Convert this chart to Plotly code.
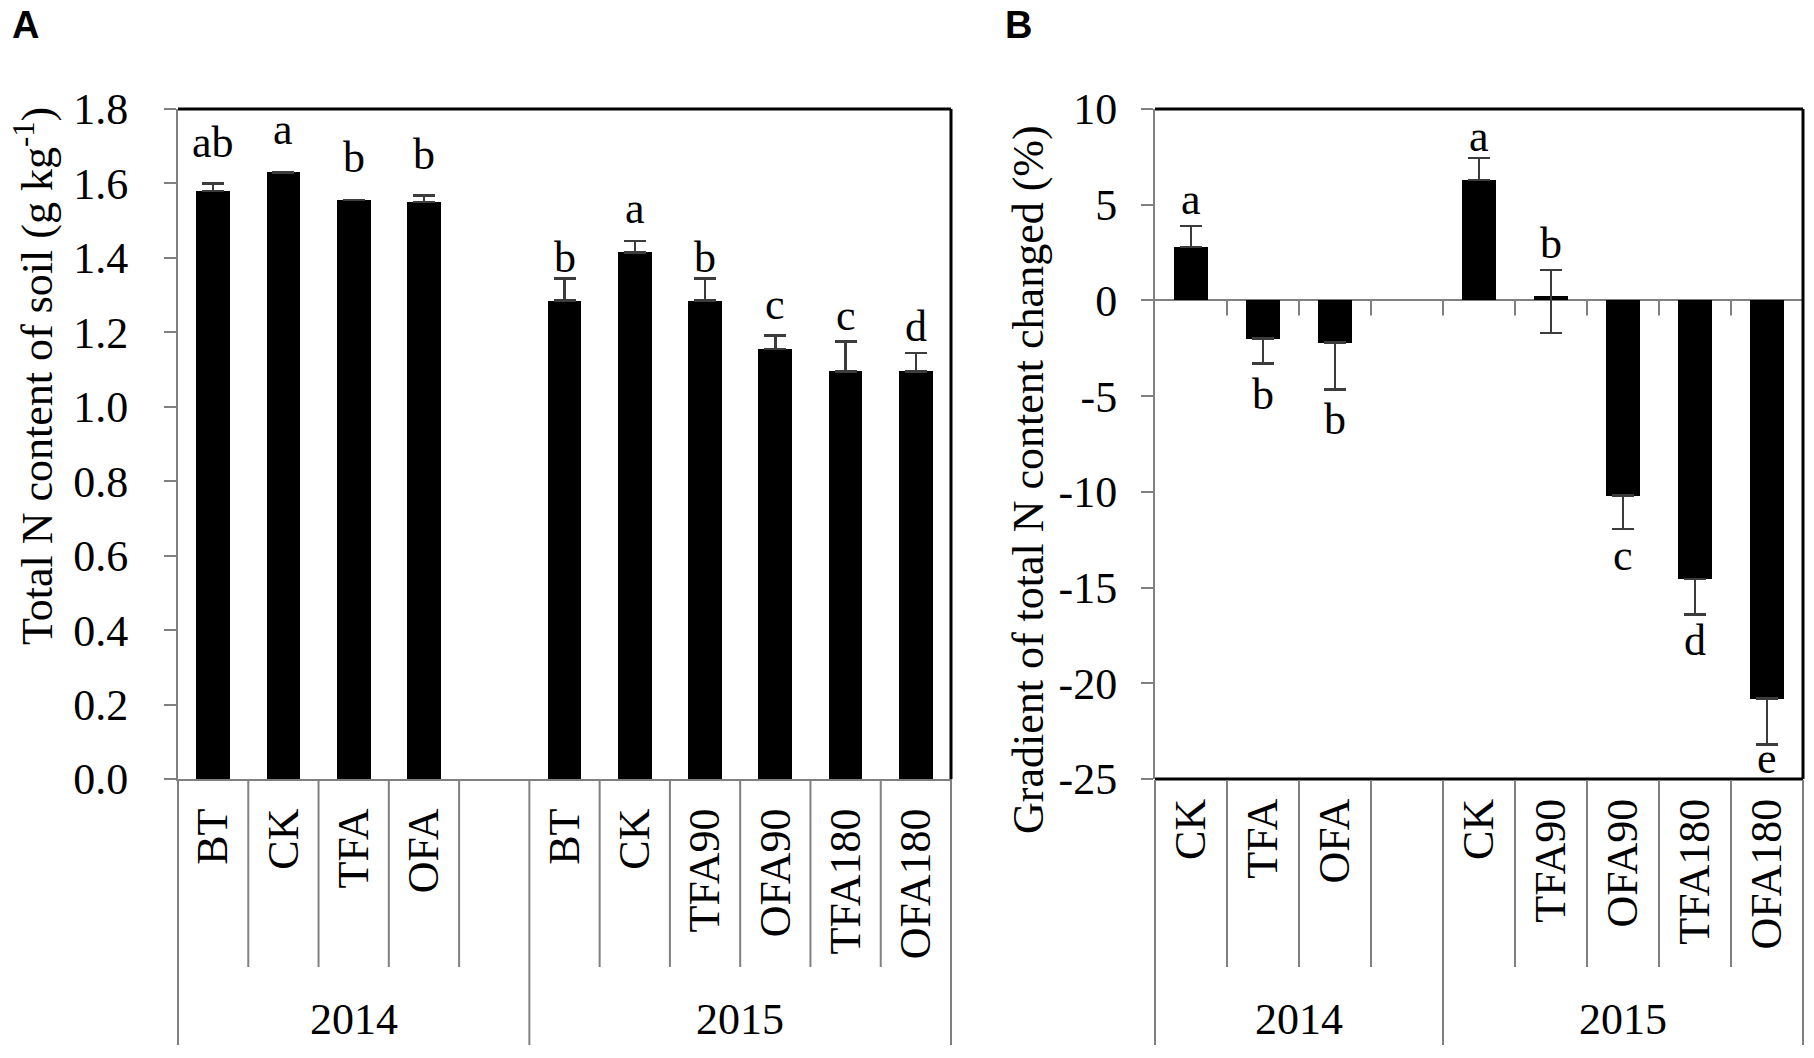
import plotly.graph_objects as go

# ---------------- data ----------------
years = ["2014", "2015"]

# Panel A: total N content of soil (g kg-1)
cats_a_2014 = ["BT", "CK", "TFA", "OFA"]
vals_a_2014 = [1.58, 1.63, 1.555, 1.55]
err_a_2014 = [0.02, 0.0, 0.0, 0.018]
lab_a_2014 = ["ab", "a", "b", "b"]

cats_a_2015 = ["BT", "CK", "TFA90", "OFA90", "TFA180", "OFA180"]
vals_a_2015 = [1.285, 1.415, 1.285, 1.155, 1.095, 1.095]
err_a_2015 = [0.06, 0.03, 0.06, 0.037, 0.08, 0.05]
lab_a_2015 = ["b", "a", "b", "c", "c", "d"]

# Panel B: gradient of total N content changed (%)
cats_b_2014 = ["CK", "TFA", "OFA"]
vals_b_2014 = [2.8, -2.0, -2.2]
errup_b_2014 = [1.1, 0.0, 0.0]
errdn_b_2014 = [0.0, 1.3, 2.45]
lab_b_2014 = ["a", "b", "b"]

cats_b_2015 = ["CK", "TFA90", "OFA90", "TFA180", "OFA180"]
vals_b_2015 = [6.3, 0.25, -10.2, -14.55, -20.8]
errup_b_2015 = [1.13, 1.35, 0.0, 0.0, 0.0]
errdn_b_2015 = [0.0, 1.95, 1.75, 1.85, 2.4]
lab_b_2015 = ["a", "b", "c", "d", "e"]

ytick_a = [0.0, 0.2, 0.4, 0.6, 0.8, 1.0, 1.2, 1.4, 1.6, 1.8]
ytick_b = [10, 5, 0, -5, -10, -15, -20, -25]

# ---------------- style ----------------
W, H = 1814, 1058
SERIF = "Liberation Serif, Times New Roman, serif"
GRAY = "#808080"
FS = 44

# label pixel nudges (style only)
shift_a = [14, 16, 16, 14, -6, 6, -6, 4, 0, 0]
shift_b = [0, -4, -4, -5, 0, 0, 0, -6]


def px2x(p):
    return p / W


def px2y(p):
    return 1 - p / H


# slot positions: a blank slot separates the two year groups
xa_2014 = list(range(len(cats_a_2014)))
xa_2015 = [len(cats_a_2014) + 1 + i for i in range(len(cats_a_2015))]
n_a = len(cats_a_2014) + 1 + len(cats_a_2015)
xb_2014 = list(range(len(cats_b_2014)))
xb_2015 = [len(cats_b_2014) + 1 + i for i in range(len(cats_b_2015))]
n_b = len(cats_b_2014) + 1 + len(cats_b_2015)

xa = xa_2014 + xa_2015
va = vals_a_2014 + vals_a_2015
ea = err_a_2014 + err_a_2015
la = lab_a_2014 + lab_a_2015
ca = cats_a_2014 + cats_a_2015

xb = xb_2014 + xb_2015
vb = vals_b_2014 + vals_b_2015
eub = errup_b_2014 + errup_b_2015
edb = errdn_b_2014 + errdn_b_2015
lb = lab_b_2014 + lab_b_2015
cb = cats_b_2014 + cats_b_2015

err_style = dict(type="data", symmetric=False, color="#3c3c3c", thickness=2.5, width=11)

fig = go.Figure()
fig.add_trace(go.Bar(
    x=xa, y=va, width=0.48, marker=dict(color="black", line=dict(width=0)),
    error_y=dict(array=ea, arrayminus=[0] * len(ea), **err_style),
    xaxis="x", yaxis="y", showlegend=False,
))
fig.add_trace(go.Bar(
    x=xb, y=vb, width=0.46, marker=dict(color="black", line=dict(width=0)),
    error_y=dict(array=eub, arrayminus=edb, **err_style),
    xaxis="x2", yaxis="y2", showlegend=False,
))

ydom = [px2y(779), px2y(109)]
tickfont = dict(family=SERIF, size=FS, color="black")

fig.update_layout(
    template="none",
    width=W, height=H, margin=dict(l=0, r=0, t=0, b=0, autoexpand=False),
    paper_bgcolor="white", plot_bgcolor="white",
    font=dict(family=SERIF, size=FS, color="black"),
    bargap=0,
    xaxis=dict(domain=[px2x(178), px2x(951)], range=[-0.5, n_a - 0.5], anchor="y",
               tickmode="array", tickvals=xa, ticktext=ca, tickangle=-90, ticks="",
               ticklabelstandoff=10, tickfont=tickfont, automargin=False,
               showgrid=False, zeroline=False, showline=True, linecolor=GRAY, linewidth=2),
    yaxis=dict(domain=ydom, range=[0, 1.8], anchor="x",
               tickmode="array", tickvals=ytick_a, ticktext=["%.1f" % v for v in ytick_a],
               ticks="outside", ticklen=12, tickwidth=2, tickcolor=GRAY,
               ticklabelstandoff=27, tickfont=tickfont, automargin=False,
               showgrid=False, zeroline=False, showline=True, linecolor=GRAY, linewidth=2),
    xaxis2=dict(domain=[px2x(1155), px2x(1803)], range=[-0.5, n_b - 0.5], anchor="y2",
                tickmode="array", tickvals=xb, ticktext=cb, tickangle=-90, ticks="",
                ticklabelstandoff=10, tickfont=tickfont, automargin=False,
                showgrid=False, zeroline=False, showline=False),
    yaxis2=dict(domain=ydom, range=[-25, 10], anchor="x2",
                tickmode="array", tickvals=ytick_b, ticktext=[str(v) for v in ytick_b],
                ticks="outside", ticklen=12, tickwidth=2, tickcolor=GRAY,
                ticklabelstandoff=15, tickfont=tickfont, automargin=False,
                showgrid=False, showline=True, linecolor=GRAY, linewidth=2,
                zeroline=True, zerolinecolor=GRAY, zerolinewidth=2),
)

shapes = []
# black plot-area frame
for xr, yr in (("x domain", "y domain"), ("x2 domain", "y2 domain")):
    shapes.append(dict(type="line", xref=xr, yref=yr, x0=0, x1=1, y0=1, y1=1,
                       line=dict(color="black", width=3)))
    shapes.append(dict(type="line", xref=xr, yref=yr, x0=1, x1=1, y0=0, y1=1,
                       line=dict(color="black", width=3)))
shapes.append(dict(type="line", xref="x2 domain", yref="y2 domain", x0=0, x1=1, y0=0, y1=0,
                   line=dict(color="black", width=3)))


# category dividers below the axes (domain fractions of slot boundaries)
def dividers(xref, n, group_edges, ytop):
    out = []
    for k in range(n + 1):
        long_ = k in group_edges
        ybot = 1045 if long_ else 967
        out.append(dict(type="line", xref=xref, yref="paper", x0=k / n, x1=k / n,
                        y0=px2y(ytop), y1=px2y(ybot), line=dict(color=GRAY, width=2)))
    return out


shapes += dividers("x domain", n_a, {0, len(cats_a_2014) + 1, n_a}, 779)
shapes += dividers("x2 domain", n_b, {0, len(cats_b_2014) + 1, n_b}, 780)
# small tick marks on the zero line of panel B
for k in range(1, n_b):
    b = k - 0.5
    shapes.append(dict(type="line", xref="x2", yref="y2", ysizemode="pixel", yanchor=0,
                       x0=b, x1=b, y0=0, y1=-15, line=dict(color=GRAY, width=2)))
fig.update_layout(shapes=shapes)

ann = []
# year labels
YR_Y = px2y(1019)
ann.append(dict(x=len(cats_a_2014) / 2, y=YR_Y, xref="x", yref="paper", text=years[0],
                showarrow=False, xanchor="center", yanchor="middle", font=dict(size=FS)))
ann.append(dict(x=(xa_2015[0] + xa_2015[-1]) / 2, y=YR_Y, xref="x", yref="paper", text=years[1],
                showarrow=False, xanchor="center", yanchor="middle", font=dict(size=FS)))
ann.append(dict(x=len(cats_b_2014) / 2, y=YR_Y, xref="x2", yref="paper", text=years[0],
                showarrow=False, xanchor="center", yanchor="middle", font=dict(size=FS)))
ann.append(dict(x=(xb_2015[0] + xb_2015[-1]) / 2, y=YR_Y, xref="x2", yref="paper", text=years[1],
                showarrow=False, xanchor="center", yanchor="middle", font=dict(size=FS)))

# significance letters
for i, (x, v, e, t) in enumerate(zip(xa, va, ea, la)):
    ann.append(dict(x=x, y=v + e, xref="x", yref="y", text=t, showarrow=False,
                    xanchor="center", yanchor="bottom", yshift=shift_a[i], font=dict(size=FS)))
for i, (x, v, eu, ed, t) in enumerate(zip(xb, vb, eub, edb, lb)):
    if v >= 0:
        ann.append(dict(x=x, y=v + eu, xref="x2", yref="y2", text=t, showarrow=False,
                        xanchor="center", yanchor="bottom", yshift=shift_b[i], font=dict(size=FS)))
    elif v - ed - 3 < -25:
        ann.append(dict(x=x, y=-25, xref="x2", yref="y2", text=t, showarrow=False,
                        xanchor="center", yanchor="bottom", yshift=shift_b[i], font=dict(size=FS)))
    else:
        ann.append(dict(x=x, y=v - ed, xref="x2", yref="y2", text=t, showarrow=False,
                        xanchor="center", yanchor="top", yshift=shift_b[i], font=dict(size=FS)))

# axis titles
ann.append(dict(x=px2x(34), y=px2y(376), xref="paper", yref="paper",
                text="Total N content of soil (g kg<sup>-1</sup>)", textangle=-90,
                xanchor="center", yanchor="middle", showarrow=False, font=dict(size=FS)))
ann.append(dict(x=px2x(1028), y=px2y(480), xref="paper", yref="paper",
                text="Gradient of total N content changed (%)", textangle=-90,
                xanchor="center", yanchor="middle", showarrow=False, font=dict(size=FS)))
# panel letters
ann.append(dict(x=px2x(10), y=px2y(2), xref="paper", yref="paper", text="<b>A</b>",
                xanchor="left", yanchor="top", showarrow=False,
                font=dict(family="Liberation Sans, Arial, sans-serif", size=38)))
ann.append(dict(x=px2x(1003), y=px2y(2), xref="paper", yref="paper", text="<b>B</b>",
                xanchor="left", yanchor="top", showarrow=False,
                font=dict(family="Liberation Sans, Arial, sans-serif", size=38)))
fig.update_layout(annotations=ann)

fig.write_html("out.html", config={"displayModeBar": False},
               post_script="document.body.style.margin='0px';")
